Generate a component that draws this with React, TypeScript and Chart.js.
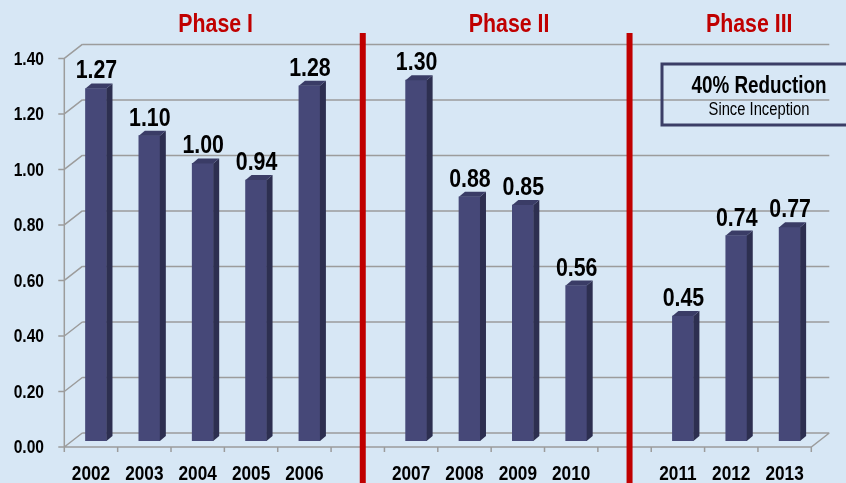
import React, { useEffect, useRef } from 'react';
import { Chart, registerables } from 'chart.js';

Chart.register(...registerables);

// ---- data ----
const categories = ['2002', '2003', '2004', '2005', '2006', '', '2007', '2008', '2009', '2010', '', '2011', '2012', '2013'];
const values: (number | null)[] = [1.27, 1.10, 1.00, 0.94, 1.28, null, 1.30, 0.88, 0.85, 0.56, null, 0.45, 0.74, 0.77];
const yMin = 0;
const yMax = 1.4;
const yStep = 0.2;
const phaseLabels = ['Phase I', 'Phase II', 'Phase III'];
const phaseStart = [0, 6, 11];
const phaseEnd = [4, 9, 13];
const dividerIndexes = [5, 10];
const boxTitle = '40% Reduction';
const boxSubtitle = 'Since Inception';

const FONT = '"Liberation Sans", Arial, sans-serif';
const NARROW = 0.82;
const BG = '#d7e7f5';
const BAR_FRONT = '#464878';
const BAR_SIDE = '#2d2f50';
const BAR_TOP = '#3a3c66';
const GRID = '#9c9c9c';
const RED = '#c00000';

// depth offsets
const FRONT = { dx: -5, dy: 6 };
const BACK = { dx: 13, dy: -8 };

function narrowText(
  ctx: CanvasRenderingContext2D,
  text: string,
  x: number,
  y: number,
  size: number,
  bold: boolean,
  align: CanvasTextAlign,
  baseline: CanvasTextBaseline,
  color: string
) {
  ctx.save();
  ctx.translate(x, y);
  ctx.scale(NARROW, 1);
  ctx.font = `${bold ? 'bold ' : ''}${size}px ${FONT}`;
  ctx.textAlign = align;
  ctx.textBaseline = baseline;
  ctx.fillStyle = color;
  ctx.fillText(text, 0, 0);
  ctx.restore();
}

const framePlugin = {
  id: 'frame3d',
  beforeDraw(chart: any) {
    const { ctx, width, height } = chart;
    ctx.save();
    ctx.fillStyle = BG;
    ctx.fillRect(0, 0, width, height);
    ctx.restore();
  },
  beforeDatasetsDraw(chart: any) {
    const { ctx, chartArea, scales } = chart;
    const { left, right, bottom } = chartArea;
    const y = scales.y;
    const x = scales.x;
    ctx.save();
    ctx.strokeStyle = GRID;
    ctx.lineWidth = 1.5;
    ctx.beginPath();
    y.ticks.forEach((t: any) => {
      const py = y.getPixelForValue(t.value);
      ctx.moveTo(left + BACK.dx, py + BACK.dy);
      ctx.lineTo(right + BACK.dx, py + BACK.dy);
      ctx.moveTo(left + FRONT.dx, py + FRONT.dy);
      ctx.lineTo(left + BACK.dx, py + BACK.dy);
      ctx.moveTo(left + FRONT.dx - 6, py + FRONT.dy);
      ctx.lineTo(left + FRONT.dx, py + FRONT.dy);
    });
    const topY = y.getPixelForValue(yMax);
    ctx.moveTo(left + FRONT.dx, topY + FRONT.dy);
    ctx.lineTo(left + FRONT.dx, bottom + FRONT.dy);
    ctx.moveTo(left + FRONT.dx, bottom + FRONT.dy);
    ctx.lineTo(right + FRONT.dx, bottom + FRONT.dy);
    ctx.lineTo(right + BACK.dx, bottom + BACK.dy);
    const n = categories.length;
    for (let i = 0; i <= n; i++) {
      const bx = left + (i * (right - left)) / n + FRONT.dx;
      ctx.moveTo(bx, bottom + FRONT.dy);
      ctx.lineTo(bx, bottom + FRONT.dy + 5);
    }
    ctx.stroke();
    ctx.restore();

    // axis labels (front face of the 3D frame)
    y.ticks.forEach((t: any) => {
      const py = y.getPixelForValue(t.value) + FRONT.dy;
      narrowText(ctx, Number(t.value).toFixed(2), 44, py + 1, 19, true, 'right', 'middle', '#000');
    });
    categories.forEach((c, i) => {
      if (!c) return;
      const px = x.getPixelForValue(i) + FRONT.dx;
      narrowText(ctx, c, px, 474, 21, true, 'center', 'middle', '#000');
    });
  },
  afterDatasetsDraw(chart: any) {
    const { ctx } = chart;
    const meta = chart.getDatasetMeta(0);
    ctx.save();
    meta.data.forEach((bar: any, i: number) => {
      const v = values[i];
      if (v == null) return;
      const { x, y: top, base, width } = bar.getProps(['x', 'y', 'base', 'width'], true);
      const l = x - width / 2;
      const r = x + width / 2;
      const sd = 6;
      const su = 5;
      ctx.fillStyle = BAR_SIDE;
      ctx.beginPath();
      ctx.moveTo(r, top);
      ctx.lineTo(r + sd, top - su);
      ctx.lineTo(r + sd, base - su);
      ctx.lineTo(r, base);
      ctx.closePath();
      ctx.fill();
      ctx.fillStyle = BAR_TOP;
      ctx.beginPath();
      ctx.moveTo(l, top);
      ctx.lineTo(r, top);
      ctx.lineTo(r + sd, top - su);
      ctx.lineTo(l + sd, top - su);
      ctx.closePath();
      ctx.fill();
      narrowText(ctx, v.toFixed(2), x + 0.5, top - 10, 26, true, 'center', 'alphabetic', '#000');
    });
    ctx.restore();
  },
  afterDraw(chart: any) {
    const { ctx, height } = chart;
    const x = chart.scales.x;
    ctx.save();
    // dividers
    ctx.fillStyle = RED;
    dividerIndexes.forEach((idx) => {
      const px = x.getPixelForValue(idx);
      ctx.fillRect(px - 3, 33, 6, height - 33);
    });
    // phase titles
    phaseLabels.forEach((label, i) => {
      const cx = (x.getPixelForValue(phaseStart[i]) + x.getPixelForValue(phaseEnd[i])) / 2 + BACK.dx;
      narrowText(ctx, label, cx, 32, 26, true, 'center', 'alphabetic', RED);
    });
    // note box
    ctx.strokeStyle = '#3b3e66';
    ctx.lineWidth = 3;
    ctx.strokeRect(662, 64, 200, 61);
    narrowText(ctx, boxTitle, 759, 93, 23, true, 'center', 'alphabetic', '#000');
    narrowText(ctx, boxSubtitle, 759, 115, 18, false, 'center', 'alphabetic', '#000');
    ctx.restore();
  },
};

export default function App() {
  const ref = useRef<HTMLCanvasElement | null>(null);
  useEffect(() => {
    document.body.style.margin = '0';
    const canvas = ref.current;
    if (!canvas) return;
    const chart = new Chart(canvas, {
      type: 'bar',
      data: {
        labels: categories,
        datasets: [
          {
            data: values as any,
            backgroundColor: BAR_FRONT,
            borderWidth: 0,
            barThickness: 21,
          },
        ],
      },
      options: {
        animation: false,
        responsive: false,
        devicePixelRatio: 1,
        layout: { padding: { top: 52.4, right: 29.7, left: 0, bottom: 0 } },
        plugins: { legend: { display: false }, tooltip: { enabled: false } },
        scales: {
          x: {
            grid: { display: false, drawTicks: false },
            border: { display: false },
            ticks: { display: false, autoSkip: false },
            afterFit: (s: any) => {
              s.height = 42;
            },
          },
          y: {
            min: yMin,
            max: yMax,
            grid: { display: false, drawTicks: false },
            border: { display: false },
            ticks: { display: false, stepSize: yStep },
            afterFit: (s: any) => {
              s.width = 69.3;
            },
          },
        },
      } as any,
      plugins: [framePlugin],
    });
    return () => chart.destroy();
  }, []);
  return (
    <div style={{ width: 846, height: 483 }}>
      <canvas ref={ref} width={846} height={483} />
    </div>
  );
}
